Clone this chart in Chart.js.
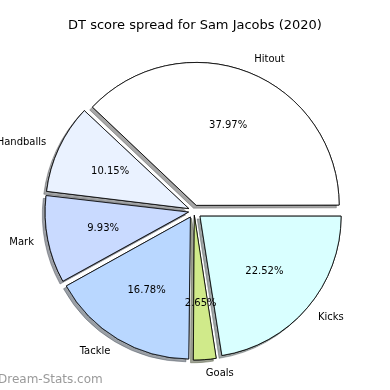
<!DOCTYPE html>
<html>
<head>
<meta charset="utf-8">
<script src="https://cdn.jsdelivr.net/npm/chart.js@4/dist/chart.umd.min.js"></script>
<style>
  html, body { margin: 0; padding: 0; background: #fff; }
  #wrap { width: 390px; height: 390px; }
</style>
</head>
<body>
<div id="wrap"><canvas id="chart" width="390" height="390"></canvas></div>
<script>
// data, in matplotlib order (counter-clockwise from 3 o'clock)
const labels = ["Hitout", "Handballs", "Mark", "Tackle", "Goals", "Kicks"];
const values = [37.97, 10.15, 9.93, 16.78, 2.65, 22.52];
const colors = ["#ffffff", "#eaf2ff", "#c9daff", "#b9d7ff", "#d0ea8a", "#d9ffff"];

const title = "DT score spread for Sam Jacobs (2020)";
const font = "'DejaVu Sans', sans-serif";

const EXPLODE = 8;   // px the slices are pulled out
const RADIUS = 141;
const total = values.reduce((a, b) => a + b, 0);

// chart.js goes clockwise, so reverse to get the same picture
const cLabels = labels.slice().reverse();
const cValues = values.slice().reverse();
const cColors = colors.slice().reverse();

// chart.js translates an arc by offset/4 * (1 + fix); undo that
function offsetFor(v) {
  const circ = v / total * Math.PI * 2;
  const fix = 1 - Math.sin(Math.min(Math.PI, circ));
  return 4 * EXPLODE / (1 + fix);
}

function shadowOf(hex) {
  const n = parseInt(hex.slice(1), 16);
  const r = (n >> 16) & 255, g = (n >> 8) & 255, b = n & 255;
  return `rgba(${Math.round(r * 0.3)},${Math.round(g * 0.3)},${Math.round(b * 0.3)},0.5)`;
}

const shadows = {
  id: "shadows",
  beforeDatasetsDraw(chart) {
    const ctx = chart.ctx;
    const meta = chart.getDatasetMeta(0);
    meta.data.forEach((arc, i) => {
      ctx.save();
      ctx.shadowColor = shadowOf(cColors[i]);
      ctx.shadowBlur = 0;
      ctx.shadowOffsetX = -2.8;
      ctx.shadowOffsetY = 2.8;
      arc.draw(ctx);
      ctx.restore();
    });
  }
};

const texts = {
  id: "texts",
  afterDatasetsDraw(chart) {
    const ctx = chart.ctx;
    const meta = chart.getDatasetMeta(0);
    ctx.save();
    ctx.fillStyle = "#000";
    ctx.textBaseline = "middle";
    meta.data.forEach((arc, i) => {
      const mid = (arc.startAngle + arc.endAngle) / 2;
      const cx = arc.x + Math.cos(mid) * EXPLODE;
      const cy = arc.y + Math.sin(mid) * EXPLODE;
      const r = arc.outerRadius;
      ctx.font = "10px " + font;
      // label
      const lx = cx + Math.cos(mid) * r * 1.1;
      const ly = cy + Math.sin(mid) * r * 1.1;
      ctx.textAlign = Math.cos(mid) >= 0 ? "left" : "right";
      ctx.fillText(cLabels[i], lx, ly);
      // percentage
      const px = cx + Math.cos(mid) * r * 0.6;
      const py = cy + Math.sin(mid) * r * 0.6;
      ctx.textAlign = "center";
      ctx.fillText(cValues[i].toFixed(2) + "%", px, py);
    });
    // title
    ctx.font = "13px " + font;
    ctx.textAlign = "center";
    ctx.fillText(title, 195, 26);
    // watermark
    ctx.font = "12px " + font;
    ctx.fillStyle = "#9a9a9a";
    ctx.textAlign = "left";
    ctx.fillText("Dream-Stats.com", -2, 380);
    ctx.restore();
  }
};

new Chart(document.getElementById("chart"), {
  type: "pie",
  data: {
    labels: cLabels,
    datasets: [{
      data: cValues,
      backgroundColor: cColors,
      borderColor: "#000",
      borderWidth: 0.8,
      borderJoinStyle: "miter",
      offset: ctx => offsetFor(ctx.raw),
      hoverOffset: 0
    }]
  },
  options: {
    responsive: false,
    animation: false,
    rotation: 90,
    radius: RADIUS,
    layout: { padding: { left: 20, right: 22, top: 52, bottom: 20 } },
    plugins: {
      legend: { display: false },
      tooltip: { enabled: false },
      title: { display: false }
    }
  },
  plugins: [shadows, texts]
});
</script>
</body>
</html>
